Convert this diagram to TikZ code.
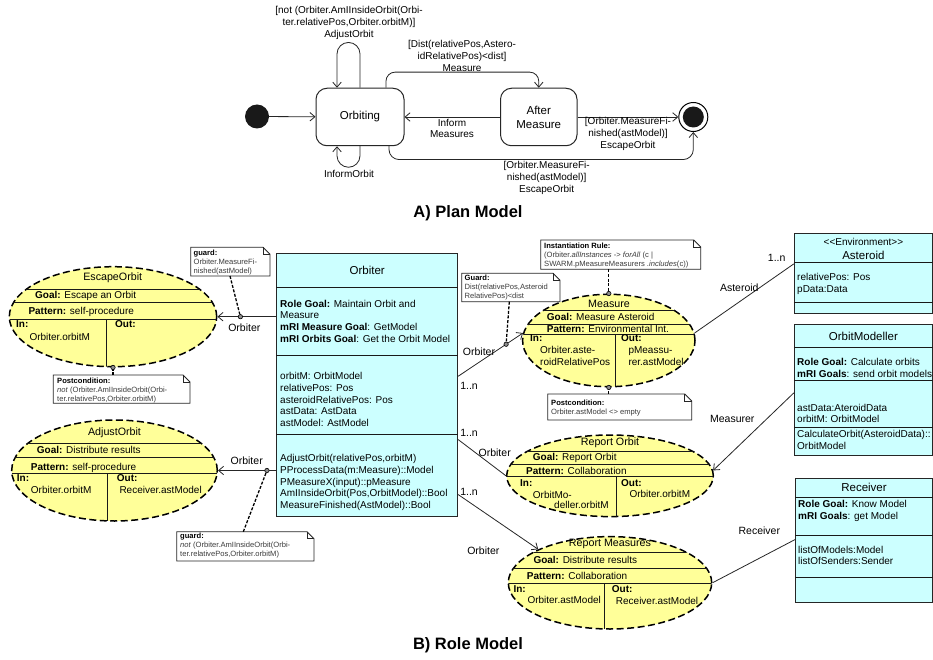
\documentclass[tikz,border=0pt]{standalone}
\usepackage{fontspec}
\setmainfont{Liberation Sans}
\usetikzlibrary{arrows.meta,shapes.geometric,calc}

\definecolor{rolefill}{RGB}{255,255,153}
\definecolor{clsfill}{RGB}{204,255,255}
\definecolor{notetext}{RGB}{60,60,60}

\newcommand\fbody{\fontsize{10}{11.8}\selectfont}
\newcommand\flabel{\fontsize{10.5}{12}\selectfont}
\newcommand\fnote{\fontsize{7.6}{9}\selectfont}
\newcommand\frole{\fontsize{10.7}{12}\selectfont}
\newcommand\fstate{\fontsize{11.5}{14}\selectfont}
\newcommand\fheading{\fontsize{16.5}{19}\selectfont\bfseries}

% folded-corner comment box: x1, y1, x2, y2
\newcommand\drawnote[4]{%
  \draw[notebox] (#1,#2) -- ({#3-7},#2) -- (#3,{#2+7}) -- (#3,#4) -- (#1,#4) -- cycle;
  \draw[notebox,fill=none] ({#3-7},#2) -- ({#3-7},{#2+7}) -- (#3,{#2+7});
}

\tikzset{
  tip/.style={-{Straight Barb[length=5pt,width=8.5pt]}},
  conn/.style={line width=0.8pt, draw=black!85},
  statebox/.style={draw=black!85, line width=1pt, rounded corners=11pt, align=center,
    font=\fstate, inner sep=0pt},
  lbl/.style={font=\fbody, align=center, inner sep=0pt},
  rlbl/.style={font=\flabel, align=center, inner sep=0pt},
  tl/.style={font=\fbody, inner sep=0pt, anchor=west, text height=7.3pt, text depth=2pt},
  ml/.style={font=\fbody, inner sep=0pt, anchor=north west, align=left},
  rolett/.style={font=\frole, inner sep=0pt, text height=7.6pt, text depth=2pt},
  clstitle/.style={font=\fstate, inner sep=0pt, align=center},
  classbox/.style={draw=black!85, fill=clsfill, line width=0.9pt, inner sep=0pt},
  role/.style={ellipse, draw=black, fill=rolefill, line width=1.5pt,
    dash pattern=on 7pt off 3.5pt, inner sep=0pt},
  rule/.style={line width=0.9pt, draw=black!90},
  notebox/.style={draw=black!85, fill=white, line width=0.8pt},
  notetxt/.style={font=\fnote, inner sep=0pt, anchor=north west, align=left, text=notetext},
  notelink/.style={line width=1.3pt, dash pattern=on 3pt off 1.6pt},
  pin/.style={circle, draw=black, fill=black!45, line width=0.6pt, inner sep=0pt,
    minimum size=4.4pt},
}

\begin{document}
\begin{tikzpicture}[x=1pt,y=-1pt]
\fill[white] (0,0) rectangle (933,660);
\useasboundingbox (0,0) rectangle (933,660);

% ---------------- A) plan model ----------------
\node[circle, fill=black!90, minimum size=24pt, inner sep=0pt] (init) at (257,116.5) {};
\node[statebox, minimum width=88pt, minimum height=57.5pt] (orbiting) at (360,117) {Orbiting};
\node[statebox, minimum width=76.5pt, minimum height=57.5pt] (aftermeas) at (538.75,117) {After\\Measure};
\node[circle, draw=black, line width=1pt, minimum size=29pt, inner sep=0pt] (final) at (693.3,117) {};
\node[circle, fill=black!90, minimum size=21pt, inner sep=0pt] (finaldot) at (final.center) {};

\draw[conn, tip] (init) -- (orbiting);
\draw[conn, tip, rounded corners=11.5pt] (orbiting.north) -- ++(0,-45.3) -- ++(-23,0) -- ++(0,45.3);
\draw[conn, tip, rounded corners=11.5pt] (orbiting.south) -- ++(0,21) -- ++(-23,0) -- ++(0,-21);
\draw[conn, tip, rounded corners=9pt] ($(orbiting.north)+(26,0)$) -- ++(0,-15.6) -| (aftermeas.north);
\draw[conn, tip] (aftermeas.west) -- (orbiting.east);
\draw[conn, tip] (aftermeas.east) -- (final.west);
\draw[conn, tip, rounded corners=10pt] ($(orbiting.south)+(29,0)$) -- ++(0,13.3) -| (final.south);

\node[lbl] (lbladjust) at (349,23) {[not (Orbiter.AmIInsideOrbit(Orbi-\\ter.relativePos,Orbiter.orbitM)]\\AdjustOrbit};
\node[lbl] (lblinformorbit) at (349,174) {InformOrbit};
\node[lbl] (lblmeasure) at (462,56) {[Dist(relativePos,Astero-\\idRelativePos){<}dist]\\Measure};
\node[lbl] (lblinform) at (452,128.5) {Inform\\Measures};
\node[lbl] (lblescapeA) at (628,133.7) {[Orbiter.MeasureFi-\\nished(astModel)]\\EscapeOrbit};
\node[lbl] (lblescapeB) at (546.7,178) {[Orbiter.MeasureFi-\\nished(astModel)]\\EscapeOrbit};
\node[font=\fheading, inner sep=0pt] (titleA) at (468,213) {A) Plan Model};

% ---------------- B) role model: classes ----------------
\node[classbox, minimum width=181pt, minimum height=263.4pt] (orbiter) at (367.2,385) {};
\foreach \yy in {287.7,355.7,434.3}
  \draw[rule] (orbiter.west |- 0,\yy) -- (orbiter.east |- 0,\yy);
\node[clstitle] (orbitertitle) at (367.2,270.5) {Orbiter};
\node[ml] (orbitergoals) at (280,298.6) {\strut\textbf{Role Goal:} Maintain Orbit and\\Measure\\\textbf{mRI Measure Goal}: GetModel\\\textbf{mRI Orbits Goal}: Get the Orbit Model};
\node[ml] (orbiterattrs) at (280,371) {\strut orbitM: OrbitModel\\relativePos: Pos\\asteroidRelativePos: Pos\\astData: AstData\\astModel: AstModel};
\node[ml] (orbiterops) at (280,453) {\strut AdjustOrbit(relativePos,orbitM)\\PProcessData(m:Measure)::Model\\PMeasureX(input)::pMeasure\\AmIInsideOrbit(Pos,OrbitModel)::Bool\\MeasureFinished(AstModel)::Bool};

\node[classbox, minimum width=138.2pt, minimum height=80pt] (asteroid) at (863.4,273.3) {};
\foreach \yy in {262.3,302.3}
  \draw[rule] (asteroid.west |- 0,\yy) -- (asteroid.east |- 0,\yy);
\node[font=\fbody, inner sep=0pt] (asteroidstereo) at (863.4,241.7) {{<}{<}Environment{>}{>}};
\node[clstitle] (asteroidtitle) at (863.4,255.8) {Asteroid};
\node[ml] (asteroidattrs) at (797,272) {\strut relativePos: Pos\\pData:Data};

\node[classbox, minimum width=138.2pt, minimum height=131pt] (orbitmod) at (863.4,389.5) {};
\foreach \yy in {347.7,380,427.3}
  \draw[rule] (orbitmod.west |- 0,\yy) -- (orbitmod.east |- 0,\yy);
\node[clstitle] (orbitmodtitle) at (863.4,336) {OrbitModeller};
\node[ml] (orbitmodgoals) at (797,357.3) {\strut\textbf{Role Goal:} Calculate orbits\\\textbf{mRI Goals}: send orbit models};
\node[ml] (orbitmodattrs) at (797,402.6) {\strut astData:AteroidData\\orbitM: OrbitModel};
\node[ml] (orbitmodops) at (797,428.8) {\strut CalculateOrbit(AsteroidData)::\\OrbitModel};

\node[classbox, minimum width=137pt, minimum height=124pt] (receiver) at (864,540.3) {};
\foreach \yy in {497.7,535,577.3}
  \draw[rule] (receiver.west |- 0,\yy) -- (receiver.east |- 0,\yy);
\node[clstitle] (receivertitle) at (864,487.8) {Receiver};
\node[ml] (receivergoals) at (798,499.3) {\strut\textbf{Role Goal:} Know Model\\\textbf{mRI Goals}: get Model};
\node[ml] (receiverattrs) at (798,544.6) {\strut listOfModels:Model\\listOfSenders:Sender};

% ---------------- B) role model: roles ----------------
% EscapeOrbit
\node[role, minimum width=207.4pt, minimum height=100pt] (escape) at (113,316.7) {};
\begin{scope}
  \clip (escape.center) ellipse [x radius=103.7pt, y radius=50pt];
  \foreach \yy in {289,302.3,319}
    \draw[rule] (escape.west |- 0,\yy) -- (escape.east |- 0,\yy);
  \draw[rule] (106.7,319) -- (106.7,370);
\end{scope}
\node[rolett] (escapetitle) at (112.7,278) {EscapeOrbit};
\node[tl] (escapegoal) at (35,295.8) {\textbf{Goal:} Escape an Orbit};
\node[tl] (escapepattern) at (28.3,311.8) {\textbf{Pattern:} self-procedure};
\node[tl] (escapein) at (16,325) {\textbf{In:}};
\node[tl] (escapeout) at (115,325) {\textbf{Out:}};
\node[tl] (escapeinval) at (29.3,337.5) {Orbiter.orbitM};

% AdjustOrbit
\node[role, minimum width=205.6pt, minimum height=101pt] (adjust) at (114.5,470.5) {};
\begin{scope}
  \clip (adjust.center) ellipse [x radius=102.8pt, y radius=50.5pt];
  \foreach \yy in {443.3,457.7,473.3}
    \draw[rule] (adjust.west |- 0,\yy) -- (adjust.east |- 0,\yy);
  \draw[rule] (107.7,473.3) -- (107.7,525);
\end{scope}
\node[rolett] (adjusttitle) at (114.5,432.8) {AdjustOrbit};
\node[tl] (adjustgoal) at (36.7,450.8) {\textbf{Goal:} Distribute results};
\node[tl] (adjustpattern) at (30.7,467.5) {\textbf{Pattern:} self-procedure};
\node[tl] (adjustin) at (16.7,479) {\textbf{In:}};
\node[tl] (adjustout) at (116.7,479) {\textbf{Out:}};
\node[tl] (adjustinval) at (30.7,490.8) {Orbiter.orbitM};
\node[tl] (adjustoutval) at (119.3,490.8) {Receiver.astModel};

% Measure
\node[role, minimum width=172.4pt, minimum height=92.4pt] (measure) at (608.8,340.5) {};
\begin{scope}
  \clip (measure.center) ellipse [x radius=86.2pt, y radius=46.2pt];
  \foreach \yy in {310,324.3,334}
    \draw[rule] (measure.west |- 0,\yy) -- (measure.east |- 0,\yy);
  \draw[rule] (615.7,334) -- (615.7,390);
\end{scope}
\node[rolett] (measuretitle) at (609,304.3) {Measure};
\node[tl] (measuregoal) at (546.7,318) {\textbf{Goal:} Measure Asteroid};
\node[tl] (measurepattern) at (546.7,329.5) {\textbf{Pattern:} Environmental Int.};
\node[tl] (measurein) at (530,338.8) {\textbf{In:}};
\node[tl] (measureout) at (621,338.8) {\textbf{Out:}};
\node[tl] (measureinvalA) at (540,350.8) {Orbiter.aste-};
\node[tl] (measureinvalB) at (540,363) {roidRelativePos};
\node[tl] (measureoutvalA) at (628.3,350.8) {pMeassu-};
\node[tl] (measureoutvalB) at (628.3,363) {rer.astModel};

% Report Orbit
\node[role, minimum width=206.6pt, minimum height=81.6pt] (reporto) at (610,475.8) {};
\begin{scope}
  \clip (reporto.center) ellipse [x radius=103.3pt, y radius=40.8pt];
  \foreach \yy in {451,464.3,476.7}
    \draw[rule] (reporto.west |- 0,\yy) -- (reporto.east |- 0,\yy);
  \draw[rule] (616.7,476.7) -- (616.7,520);
\end{scope}
\node[rolett] (reportotitle) at (610,442.2) {Report Orbit};
\node[tl] (reportogoal) at (532.7,458) {\textbf{Goal:} Report Orbit};
\node[tl] (reportopattern) at (526,472.3) {\textbf{Pattern:} Collaboration};
\node[tl] (reportoin) at (520,484) {\textbf{In:}};
\node[tl] (reportoout) at (621,484) {\textbf{Out:}};
\node[tl] (reportoinvalA) at (532.7,495.6) {OrbitMo-};
\node[tl] (reportoinvalB) at (554,506.3) {deller.orbitM};
\node[tl] (reportooutval) at (629.3,495) {Orbiter.orbitM};

% Report Measures
\node[role, minimum width=203.4pt, minimum height=92.4pt] (reportm) at (610,582.8) {};
\begin{scope}
  \clip (reportm.center) ellipse [x radius=101.7pt, y radius=46.2pt];
  \foreach \yy in {552.7,568.3,583.3}
    \draw[rule] (reportm.west |- 0,\yy) -- (reportm.east |- 0,\yy);
  \draw[rule] (604.3,583.3) -- (604.3,632);
\end{scope}
\node[rolett] (reportmtitle) at (610,543.2) {Report Measures};
\node[tl] (reportmgoal) at (533.3,561.3) {\textbf{Goal:} Distribute results};
\node[tl] (reportmpattern) at (526.7,577.3) {\textbf{Pattern:} Collaboration};
\node[tl] (reportmin) at (513.3,589.6) {\textbf{In:}};
\node[tl] (reportmout) at (611.7,589.6) {\textbf{Out:}};
\node[tl] (reportminval) at (527.3,600.6) {Orbiter.astModel};
\node[tl] (reportmoutval) at (615.7,601.6) {Receiver.astModel};

% ---------------- associations ----------------
\coordinate (orbEsc) at (orbiter.west |- escape.east);
\coordinate (orbAdj) at (orbiter.west |- adjust.east);
\coordinate (orbMeas) at ($(orbiter.north east)+(0,123.4)$);
\coordinate (orbRepO) at ($(orbiter.north east)+(0,186.7)$);
\coordinate (orbRepM) at ($(orbiter.north east)+(0,241.7)$);
\coordinate (astEnd) at ($(asteroid.north west)+(0,31)$);
\coordinate (modEnd) at ($(orbitmod.north west)+(0,69.3)$);
\coordinate (recEnd) at ($(receiver.north west)+(0,61.7)$);

\draw[conn, tip] (orbEsc) -- (escape.east);
\draw[conn, tip] (orbAdj) -- (adjust.east);
\draw[conn, tip] (orbMeas) -- (measure.175);
\draw[conn] (measure.5) -- (astEnd);
\draw[conn, tip] (modEnd) -- (reporto.3);
\draw[conn] (orbRepO) -- (reporto.west);
\draw[conn, tip] (orbRepM) -- (reportm.155);
\draw[conn] (reportm.east) -- (recEnd);

\node[rlbl] (escrole) at (244.3,327.3) {Orbiter};
\node[rlbl] (adjrole) at (246.7,460.7) {Orbiter};
\node[rlbl] (measrole) at (479,351.7) {Orbiter};
\node[rlbl] (measmult) at (469,385.7) {1..n};
\node[rlbl] (astrole) at (739.3,287.3) {Asteroid};
\node[rlbl] (astmult) at (776.7,258.3) {1..n};
\node[rlbl] (modrole) at (732.3,419) {Measurer};
\node[rlbl] (rorole) at (494.7,452.3) {Orbiter};
\node[rlbl] (romult) at (469,433.3) {1..n};
\node[rlbl] (rmrole) at (483.3,551) {Orbiter};
\node[rlbl] (rmmult) at (469,491.7) {1..n};
\node[rlbl] (recrole) at (759.3,531) {Receiver};

% ---------------- comments ----------------
\drawnote{190.7}{247.3}{270}{276}
\node[notetxt] (guardescape) at (193.5,249.2) {\strut\textcolor{black}{\textbf{guard:}}\\Orbiter.MeasureFi-\\nished(astModel)};
\drawnote{53.3}{375}{190}{403.3}
\node[notetxt] (postescape) at (57,376.5) {\strut\textcolor{black}{\textbf{Postcondition:}}\\\textit{not} (Orbiter.AmIInsideOrbit(Orbi-\\ter.relativePos,Orbiter.orbitM)};
\drawnote{176.7}{531.7}{314}{561}
\node[notetxt] (guardadjust) at (180,532.2) {\strut\textcolor{black}{\textbf{guard:}}\\\textit{not} (Orbiter.AmIInsideOrbit(Orbi-\\ter.relativePos,Orbiter.orbitM)};
\drawnote{540.7}{240}{700.7}{269.3}
\node[notetxt] (instrule) at (544,241.5) {\strut\textcolor{black}{\textbf{Instantiation Rule:}}\\(Orbiter.\textit{allInstances} -{>} \textit{forAll} (c |\\SWARM.pMeasureMeasurers .\textit{includes}(c))};
\drawnote{461.7}{273.3}{560}{301.7}
\node[notetxt] (guardmeasure) at (464.5,274.2) {\strut\textcolor{black}{\textbf{Guard:}}\\Dist(relativePos,Asteroid\\RelativePos){<}dist};
\drawnote{547.7}{394}{691.7}{420}
\node[notetxt] (postmeasure) at (551,399) {\strut\textcolor{black}{\textbf{Postcondition:}}\\Orbiter.astModel {<}{>} empty};

\coordinate (guardescapeend) at (230,276);
\coordinate (postescapeend) at (escape.south |- 0,375);
\coordinate (guardadjustend) at (243.3,531.7);
\coordinate (instruleend) at (measure.north |- 0,269.3);
\coordinate (guardmeasureend) at (509.3,301.7);
\coordinate (postmeasureend) at (measure.south |- 0,394);

\node[pin] (pinEsc) at ($(orbEsc)!0.61!(escape.east)$) {};
\node[pin] (pinEscPost) at (escape.south) {};
\node[pin] (pinAdj) at ($(orbAdj)!0.16!(adjust.east)$) {};
\node[pin] (pinInst) at (measure.north) {};
\node[pin] (pinMeas) at ($(orbMeas)!0.74!(measure.175)$) {};
\node[pin] (pinMeasPost) at (measure.south) {};

\draw[notelink] (guardescapeend) -- (pinEsc);
\draw[notelink] (postescapeend) -- (pinEscPost);
\draw[notelink] (guardadjustend) -- (pinAdj);
\draw[notelink] (instruleend) -- (pinInst);
\draw[notelink] (guardmeasureend) -- (pinMeas);
\draw[notelink] (postmeasureend) -- (pinMeasPost);

\node[font=\fheading, inner sep=0pt] (titleB) at (468,645) {B) Role Model};
\end{tikzpicture}
\end{document}
